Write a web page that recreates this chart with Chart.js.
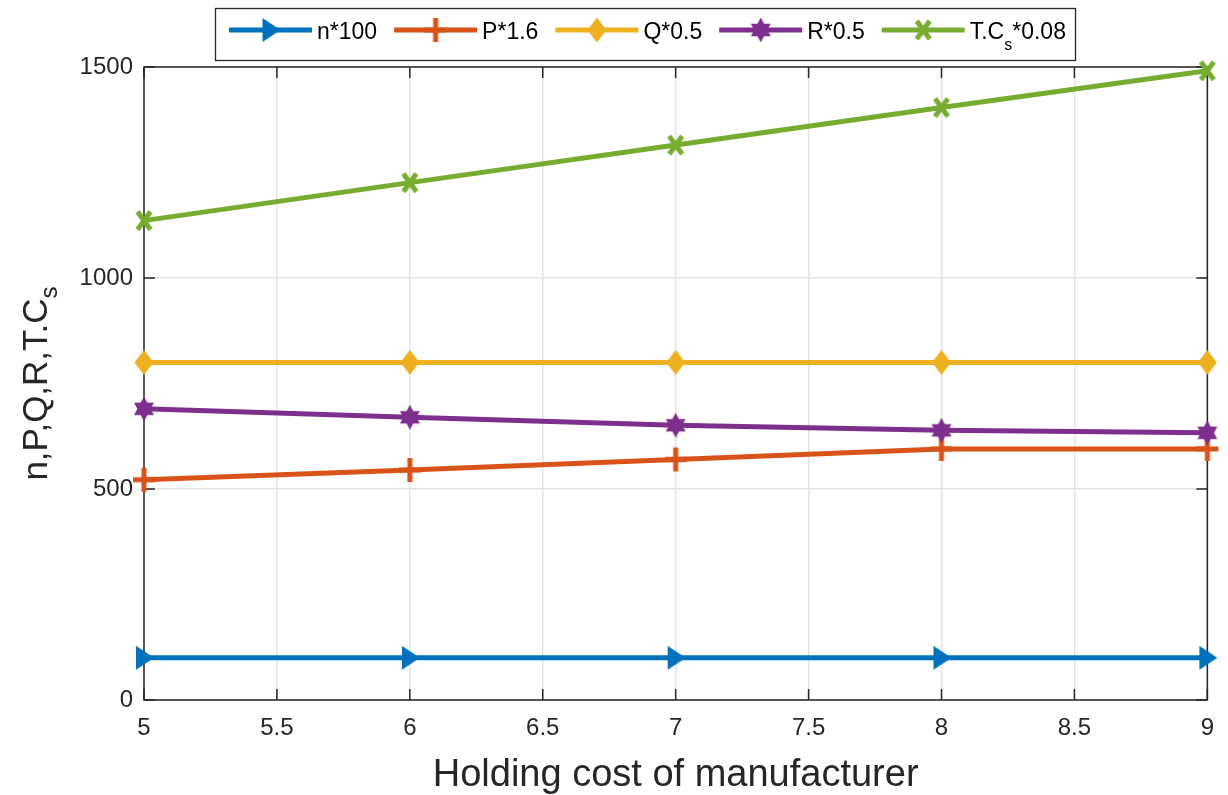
<!DOCTYPE html>
<html>
<head>
<meta charset="utf-8">
<title>Holding cost of manufacturer</title>
<script src="https://cdn.jsdelivr.net/npm/chart.js@4.4.1/dist/chart.umd.min.js"></script>
<style>
  html, body { margin: 0; padding: 0; background: #ffffff; }
  #wrap { width: 1228px; height: 795px; }
</style>
</head>
<body>
<div id="wrap"><canvas id="chart" width="1228" height="795"></canvas></div>
<script>
// Holding cost of the manufacturer (x) and the scaled decision variables / total cost
const holdingCost = [5, 6, 7, 8, 9];
const nScaled  = [100, 100, 100, 100, 100];
const pScaled  = [522, 545, 570, 595, 595];
const qScaled  = [800, 800, 800, 800, 800];
const rScaled  = [690, 670, 651, 639, 633];
const tcScaled = [1136, 1226, 1315, 1404, 1491];

const xTicks = [5, 5.5, 6, 6.5, 7, 7.5, 8, 8.5, 9];
const yTicks = [0, 500, 1000, 1500];

// "_s" marks a one-letter subscript
const seriesLabels = ['n*100', 'P*1.6', 'Q*0.5', 'R*0.5', 'T.C_s*0.08'];
const xTitle = 'Holding cost of manufacturer';
const yTitle = 'n,P,Q,R,T.C_s';

const FONT = "'Liberation Sans', Arial, Helvetica, sans-serif";
const INK = '#262626';
const colors = ['#0072BD', '#D95319', '#EDB120', '#7E2F8E', '#77AC30'];
const markerKinds = ['tri', 'plus', 'diamond', 'hex', 'x'];

function makeMarker(kind, color) {
  const size = 34;
  const c = document.createElement('canvas');
  c.width = size; c.height = size;
  const g = c.getContext('2d');
  g.translate(size / 2, size / 2);
  g.fillStyle = color; g.strokeStyle = color;
  g.lineWidth = 5; g.lineCap = 'butt';
  g.beginPath();
  if (kind === 'tri') {
    g.moveTo(10, 0); g.lineTo(-8, -12); g.lineTo(-8, 12); g.closePath(); g.fill();
  } else if (kind === 'plus') {
    g.moveTo(-11, 0); g.lineTo(11, 0); g.moveTo(0, -12); g.lineTo(0, 12); g.stroke();
  } else if (kind === 'diamond') {
    g.moveTo(0, -12.5); g.lineTo(9.5, 0); g.lineTo(0, 12.5); g.lineTo(-9.5, 0); g.closePath(); g.fill();
  } else if (kind === 'hex') {
    const r = 12.5;
    for (const start of [-90, 90]) {
      g.beginPath();
      for (let k = 0; k < 3; k++) {
        const a = (start + k * 120) * Math.PI / 180;
        const px = Math.cos(a) * r * 0.92, py = Math.sin(a) * r;
        if (k === 0) g.moveTo(px, py); else g.lineTo(px, py);
      }
      g.closePath(); g.fill();
    }
  } else if (kind === 'x') {
    g.moveTo(-6.5, -9); g.lineTo(6.5, 9); g.moveTo(6.5, -9); g.lineTo(-6.5, 9); g.stroke();
  }
  return c;
}

const markers = markerKinds.map((k, i) => makeMarker(k, colors[i]));
const seriesValues = [nScaled, pScaled, qScaled, rScaled, tcScaled];

const datasets = seriesValues.map((vals, i) => ({
  label: seriesLabels[i],
  data: holdingCost.map((x, j) => ({ x: x, y: vals[j] })),
  borderColor: colors[i],
  backgroundColor: colors[i],
  borderWidth: 5,
  pointStyle: markers[i],
  pointRadius: 10,
  pointHoverRadius: 10,
  tension: 0,
  clip: false,
  order: seriesValues.length - i
}));

// Draws text where "_c" renders c as a subscript; returns the total width
function drawRich(g, text, x, y, size, subSize, subDrop, measureOnly) {
  let cx = x;
  let i = 0;
  while (i < text.length) {
    if (text[i] === '_' && i + 1 < text.length) {
      g.font = subSize + 'px ' + FONT;
      if (!measureOnly) g.fillText(text[i + 1], cx, y + subDrop);
      cx += g.measureText(text[i + 1]).width;
      i += 2;
    } else {
      let j = i;
      while (j < text.length && text[j] !== '_') j++;
      const part = text.slice(i, j);
      g.font = size + 'px ' + FONT;
      if (!measureOnly) g.fillText(part, cx, y);
      cx += g.measureText(part).width;
      i = j;
    }
  }
  return cx - x;
}

const frame = {
  id: 'frame',
  beforeDatasetsDraw(chart) {
    const { ctx, chartArea: a, scales } = chart;
    ctx.save();
    ctx.strokeStyle = INK;
    ctx.lineWidth = 1.5;
    ctx.strokeRect(a.left, a.top, a.right - a.left, a.bottom - a.top);
    const tl = 11;
    ctx.beginPath();
    xTicks.forEach(v => {
      const px = scales.x.getPixelForValue(v);
      ctx.moveTo(px, a.bottom); ctx.lineTo(px, a.bottom - tl);
      ctx.moveTo(px, a.top); ctx.lineTo(px, a.top + tl);
    });
    yTicks.forEach(v => {
      const py = scales.y.getPixelForValue(v);
      ctx.moveTo(a.left, py); ctx.lineTo(a.left + tl, py);
      ctx.moveTo(a.right, py); ctx.lineTo(a.right - tl, py);
    });
    ctx.stroke();
    ctx.restore();
  },
  afterDraw(chart) {
    const { ctx, chartArea: a } = chart;
    ctx.save();
    ctx.fillStyle = INK;
    ctx.textBaseline = 'alphabetic';

    // x axis title
    ctx.font = '38px ' + FONT;
    const w = ctx.measureText(xTitle).width;
    ctx.fillText(xTitle, (a.left + a.right) / 2 - w / 2, 786);

    // y axis title, rotated
    const ySize = 35, ySub = 24;
    const yw = drawRich(ctx, yTitle, 0, 0, ySize, ySub, 10, true);
    ctx.translate(47, (a.top + a.bottom) / 2);
    ctx.rotate(-Math.PI / 2);
    drawRich(ctx, yTitle, -yw / 2, 0, ySize, ySub, 10, false);
    ctx.restore();

    // legend box
    ctx.save();
    const bx = 215.5, by = 8.5, bw = 860, bh = 52;
    ctx.fillStyle = '#ffffff';
    ctx.fillRect(bx, by, bw, bh);
    ctx.strokeStyle = INK;
    ctx.lineWidth = 1.3;
    ctx.strokeRect(bx, by, bw, bh);
    const ly = 30;
    let x = 229;
    const lineLen = 83, textGap = 5, itemGap = 17;
    chart.data.datasets.forEach((ds, i) => {
      ctx.strokeStyle = ds.borderColor;
      ctx.lineWidth = 5;
      ctx.beginPath();
      ctx.moveTo(x, ly); ctx.lineTo(x + lineLen, ly);
      ctx.stroke();
      const m = markers[i];
      ctx.drawImage(m, x + lineLen / 2 - m.width / 2, ly - m.height / 2);
      ctx.fillStyle = '#000000';
      const tw = drawRich(ctx, ds.label, x + lineLen + textGap, ly + 8.5, 23, 16, 11, false);
      x += lineLen + textGap + tw + itemGap;
    });
    ctx.restore();
  }
};

const tickFont = { family: FONT, size: 24 };

new Chart(document.getElementById('chart'), {
  type: 'line',
  data: { datasets: datasets },
  options: {
    responsive: false,
    animation: false,
    events: [],
    layout: { padding: { top: 67, right: 16, left: 0, bottom: 0 } },
    plugins: { legend: { display: false }, tooltip: { enabled: false } },
    scales: {
      x: {
        type: 'linear',
        min: 5, max: 9,
        afterBuildTicks: s => { s.ticks = xTicks.map(v => ({ value: v })); },
        afterFit: s => { s.height = 95; },
        grid: { color: '#e3e3e3', lineWidth: 1.5, drawTicks: false },
        border: { display: false },
        ticks: { font: tickFont, color: INK, padding: 14, maxRotation: 0, autoSkip: false,
                 callback: v => String(v) }
      },
      y: {
        type: 'linear',
        min: 0, max: 1500,
        afterBuildTicks: s => { s.ticks = yTicks.map(v => ({ value: v })); },
        afterFit: s => { s.width = 144; },
        grid: { color: '#e3e3e3', lineWidth: 1.5, drawTicks: false },
        border: { display: false },
        ticks: { font: tickFont, color: INK, padding: 11, callback: v => String(v) }
      }
    }
  },
  plugins: [frame]
});
</script>
</body>
</html>
